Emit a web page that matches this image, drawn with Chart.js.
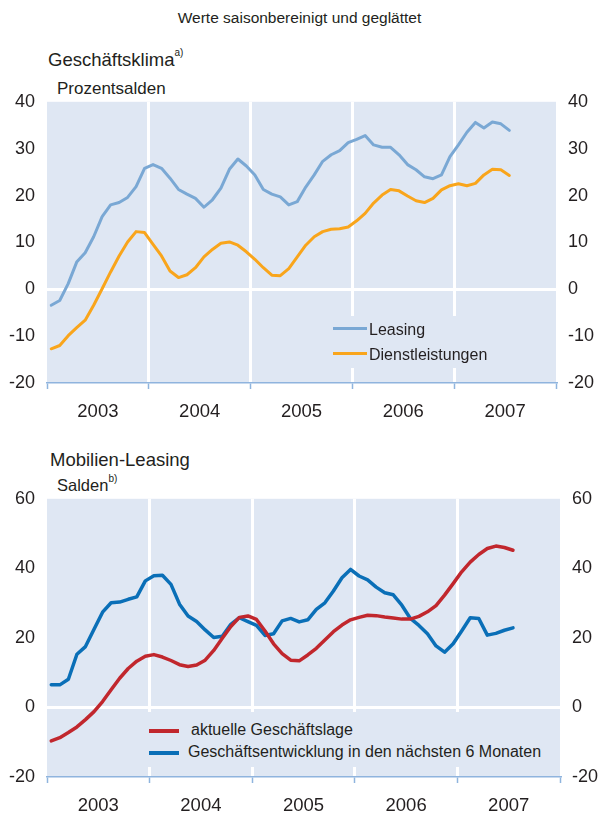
<!DOCTYPE html>
<html>
<head>
<meta charset="utf-8">
<script src="https://cdn.jsdelivr.net/npm/chart.js@4.4.1/dist/chart.umd.min.js"></script>
<style>
body{margin:0;background:#fff;font-family:"Liberation Sans",Arial,sans-serif;color:#231f20;}
#page{position:relative;width:599px;height:814px;overflow:hidden;}
.t{position:absolute;white-space:nowrap;line-height:1;}
.t sup{font-size:10px;vertical-align:top;position:relative;top:-3px;}
.leg{position:absolute;background:#dfe7f3;}
.leg div{position:absolute;white-space:nowrap;font-size:16px;line-height:18px;}
.leg span{position:absolute;height:3px;}
canvas{position:absolute;left:0;}
</style>
</head>
<body>
<div id="page">
  <div class="t" style="left:0;width:599px;text-align:center;top:10px;font-size:15.5px;">Werte saisonbereinigt und geglättet</div>
  <div class="t" style="left:48px;top:51px;font-size:18.5px;">Geschäftsklima<sup>a)</sup></div>
  <div class="t" style="left:57px;top:80px;font-size:17px;">Prozentsalden</div>
  <div class="t" style="left:50px;top:451px;font-size:18.5px;">Mobilien-Leasing</div>
  <div class="t" style="left:57px;top:477px;font-size:16.5px;">Salden<sup>b)</sup></div>

  <canvas id="chartKlima" width="599" height="344" style="top:79px;width:599px;height:344px;"></canvas>
  <canvas id="chartMobilien" width="599" height="338" style="top:476px;width:599px;height:338px;"></canvas>

  <div class="leg" style="left:325px;top:316px;width:150px;height:52px;">
    <span style="left:8px;top:10.5px;width:34px;background:#7aa8d4;"></span>
    <div style="left:44px;top:5px;">Leasing</div>
    <span style="left:8px;top:35.5px;width:34px;background:#f9a51b;"></span>
    <div style="left:44px;top:30px;">Dienstleistungen</div>
  </div>
  <div class="leg" style="left:140px;top:712px;width:408px;height:55px;">
    <span style="left:9px;top:17px;width:30px;height:4px;background:#c1272d;"></span>
    <div style="left:51px;top:9px;">aktuelle Geschäftslage</div>
    <span style="left:9px;top:39px;width:30px;height:4px;background:#0a6fb7;"></span>
    <div style="left:48px;top:31px;">Geschäftsentwicklung in den nächsten 6 Monaten</div>
  </div>
</div>

<script>
// Monatswerte Jan 2003 .. Jul 2007
const jahre = ["2003", "2004", "2005", "2006", "2007"];

const leasing = [-3.4,-2.4,1.2,5.8,7.8,11.2,15.5,18.0,18.5,19.6,
  21.9,25.8,26.6,25.8,23.7,21.3,20.3,19.4,17.5,19.1,
  21.6,25.6,27.8,26.3,24.4,21.3,20.3,19.7,18.0,18.7,
  21.8,24.4,27.3,28.7,29.6,31.3,32.0,32.8,30.8,30.3,
  30.3,28.7,26.6,25.5,24.0,23.6,24.4,28.3,30.8,33.5,
  35.6,34.4,35.7,35.3,33.9];

const dienstleistungen = [-12.7,-12.0,-9.9,-8.2,-6.6,-3.4,0.1,3.7,7.1,10.1,
  12.3,12.1,9.6,7.1,3.9,2.5,3.1,4.6,6.9,8.5,
  9.8,10.1,9.4,8.0,6.4,4.6,3.0,2.9,4.4,6.9,
  9.4,11.2,12.3,12.8,12.9,13.3,14.6,16.2,18.4,20.1,
  21.3,21.0,19.9,18.9,18.5,19.4,21.2,22.1,22.5,22.1,
  22.6,24.4,25.6,25.5,24.3];

const geschaeftslage = [-9.6,-8.7,-7.2,-5.6,-3.5,-1.2,1.7,5.1,8.4,11.2,
  13.3,14.7,15.2,14.5,13.5,12.3,11.8,12.2,13.6,16.4,
  19.9,23.3,25.9,26.3,25.3,22.0,18.3,15.5,13.6,13.4,
  15.1,17.0,19.4,21.8,23.7,25.2,25.9,26.5,26.4,26.0,
  25.7,25.4,25.4,26.2,27.5,29.3,32.3,35.6,39.0,41.8,
  44.0,45.7,46.4,46.0,45.2];

const entwicklung = [6.5,6.5,8.1,15.3,17.5,22.5,27.4,30.1,30.3,31.1,
  31.8,36.4,37.9,38.0,35.4,29.7,26.3,24.7,22.3,20.1,
  20.5,23.9,25.8,24.7,23.6,20.7,21.2,24.9,25.6,24.6,
  25.2,28.2,30.1,33.5,37.3,39.7,37.8,36.7,34.6,33.0,
  32.4,29.4,25.6,23.6,21.2,17.7,15.9,18.3,22.0,25.8,
  25.6,20.8,21.3,22.2,22.9];

const BG = "#dfe7f3";
const AXIS = "#8fb4de";
const TXT = "#231f20";
const NONE = "rgba(0,0,0,0)";
const FONT = "'Liberation Sans', Arial, sans-serif";

function monatsPunkte(arr){
  return arr.map((v, i) => ({ x: i + 0.5, y: v }));
}

const plotBg = {
  id: "plotBg",
  beforeDraw(chart){
    const { ctx, chartArea: a } = chart;
    ctx.save();
    ctx.fillStyle = BG;
    ctx.fillRect(a.left, a.top, a.right - a.left, a.bottom - a.top);
    ctx.restore();
  }
};

function makeChart(canvasId, datasets, yMin, yMax, step, rightW, xH, gridOnTop){
  const yTicks = { stepSize: step, color: TXT, font: { family: FONT, size: 18 } };
  return new Chart(document.getElementById(canvasId), {
    type: "line",
    data: { datasets },
    options: {
      responsive: false,
      animation: false,
      layout: { padding: 0 },
      plugins: { legend: { display: false }, tooltip: { enabled: false } },
      elements: { point: { radius: 0 }, line: { tension: 0, borderJoinStyle: "round", borderCapStyle: "round" } },
      scales: {
        x: {
          type: "linear", min: 0, max: 60, z: gridOnTop ? 1 : 0,
          afterBuildTicks(scale){
            const t = [];
            for(let v = 0; v <= 60; v += 6) t.push({ value: v });
            scale.ticks = t;
          },
          afterFit(scale){ scale.height = xH; },
          ticks: {
            autoSkip: false, maxRotation: 0, padding: 12, color: TXT,
            font: { family: FONT, size: 18.5 },
            callback: v => (v % 12 === 6) ? jahre[(v - 6) / 12] : ""
          },
          grid: {
            lineWidth: 3,
            color: c => (c.tick && c.tick.value % 12 === 0 && c.tick.value > 0 && c.tick.value < 60) ? "#ffffff" : NONE,
            tickColor: c => (c.tick && c.tick.value % 12 === 0) ? AXIS : NONE,
            tickWidth: 1.5,
            tickLength: 6
          },
          border: { display: true, color: AXIS, width: 1.5 }
        },
        y: {
          position: "left", min: yMin, max: yMax,
          afterFit(scale){ scale.width = 47; },
          ticks: Object.assign({ padding: 12 }, yTicks),
          grid: { drawTicks: false, lineWidth: 3, color: c => (c.tick && c.tick.value === 0) ? "#ffffff" : NONE },
          border: { display: false }
        },
        y2: {
          position: "right", min: yMin, max: yMax,
          afterFit(scale){ scale.width = rightW; },
          ticks: Object.assign({ padding: 12 }, yTicks),
          grid: { display: false, drawTicks: false },
          border: { display: false }
        }
      }
    },
    plugins: [plotBg]
  });
}

makeChart("chartKlima", [
  { label: "Leasing", data: monatsPunkte(leasing), borderColor: "#7aa8d4", borderWidth: 3 },
  { label: "Dienstleistungen", data: monatsPunkte(dienstleistungen), borderColor: "#f9a51b", borderWidth: 3 }
], -20, 40, 10, 43, 40, false);

makeChart("chartMobilien", [
  { label: "aktuelle Geschäftslage", data: monatsPunkte(geschaeftslage), borderColor: "#c1272d", borderWidth: 3.5 },
  { label: "Geschäftsentwicklung in den nächsten 6 Monaten", data: monatsPunkte(entwicklung), borderColor: "#0a6fb7", borderWidth: 3.5 }
], -20, 60, 20, 39, 37, true);
</script>
</body>
</html>
